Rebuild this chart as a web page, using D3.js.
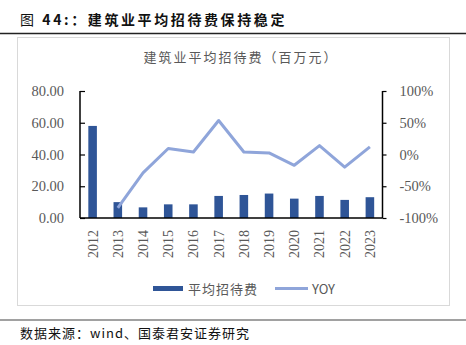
<!DOCTYPE html>
<html><head><meta charset="utf-8">
<script src="https://cdn.jsdelivr.net/npm/d3@7/dist/d3.min.js"></script>
<style>body{margin:0;background:#fff}svg{display:block}</style>
</head><body>
<script>
const years = ["2012","2013","2014","2015","2016","2017","2018","2019","2020","2021","2022","2023"];
const expense = [58.0, 10.0, 6.7, 8.6, 8.6, 13.9, 14.5, 15.4, 12.2, 13.9, 11.4, 13.1];
const yoy = [null, -84, -29, 9.5, 4, 53.6, 4, 2.5, -17, 14, -20, 12];
const leftTicks = [0, 20, 40, 60, 80];
const rightTicks = [-100, -50, 0, 50, 100];

const W = 466, H = 345;
const svg = d3.select("body").append("svg").attr("width", W).attr("height", H);
const cjk = "'Noto Sans CJK SC', sans-serif";
const serif = "'Liberation Serif', 'Times New Roman', serif";

// header
const ht = svg.append("text").attr("x", 20).attr("y", 25).attr("font-family", cjk)
  .attr("font-size", 14).attr("letter-spacing", 2.6).attr("fill", "#111");
ht.append("tspan").text("图 ");
ht.append("tspan").attr("font-weight", "bold").text("44:：建筑业平均招待费保持稳定");
svg.append("line").attr("x1", 0).attr("x2", W).attr("y1", 33.5).attr("y2", 33.5)
  .attr("stroke", "#222").attr("stroke-width", 1.5);
// frame
svg.append("rect").attr("x", 17.5).attr("y", 37.5).attr("width", 432).attr("height", 268)
  .attr("fill", "none").attr("stroke", "#d9d9d9");
// bottom rule + footer
svg.append("line").attr("x1", 0).attr("x2", W).attr("y1", 320).attr("y2", 320)
  .attr("stroke", "#444").attr("stroke-width", 1.2);
svg.append("text").attr("x", 20).attr("y", 338).attr("font-family", cjk)
  .attr("font-size", 13).attr("letter-spacing", 1).attr("fill", "#111")
  .text("数据来源：wind、国泰君安证券研究");

// chart title
svg.append("text").attr("x", 241).attr("y", 62).attr("text-anchor", "middle")
  .attr("font-family", cjk).attr("font-size", 13).attr("letter-spacing", 2).attr("fill", "#595959")
  .text("建筑业平均招待费（百万元）");

const L = 80, R = 382.5, T = 91, B = 218;
const x = d3.scaleBand().domain(years).range([L, R]).paddingInner(0.66).paddingOuter(0.33);
const yL = d3.scaleLinear().domain([0, 80]).range([B, T]);
const yR = d3.scaleLinear().domain([-100, 100]).range([B, T]);

// bars
svg.append("g").selectAll("rect").data(years).join("rect")
  .attr("x", d => x(d)).attr("width", x.bandwidth())
  .attr("y", (d, i) => yL(expense[i])).attr("height", (d, i) => B - yL(expense[i]))
  .attr("fill", "#2F5597");

// line
const pts = years.map((d, i) => [d, yoy[i]]).filter(p => p[1] !== null);
svg.append("path").datum(pts)
  .attr("d", d3.line().x(p => x(p[0]) + x.bandwidth() / 2).y(p => yR(p[1])))
  .attr("fill", "none").attr("stroke", "#8FA5DA").attr("stroke-width", 3)
  .attr("stroke-linejoin", "round");

// axes
const gL = svg.append("g").attr("transform", `translate(${L},0)`)
  .call(d3.axisRight(yL).tickValues(leftTicks).tickSize(5).tickFormat(d3.format(".2f")));
gL.selectAll("text").remove();
svg.append("g").selectAll("text").data(leftTicks).join("text")
  .attr("x", 64).attr("y", d => yL(d)).attr("dy", "0.35em").attr("text-anchor", "end")
  .attr("font-family", serif).attr("font-size", 14.5).attr("fill", "#595959")
  .text(d3.format(".2f"));

const gR = svg.append("g").attr("transform", `translate(${R},0)`)
  .call(d3.axisRight(yR).tickValues(rightTicks).tickSize(4).tickPadding(13).tickFormat(d => d + "%"));
gR.selectAll("text").attr("font-family", serif).attr("font-size", 14.5).attr("fill", "#595959");

[gL, gR].forEach(g => {
  g.selectAll(".tick line").attr("stroke", "#000").attr("stroke-width", 1.2);
  g.select(".domain").remove();
});
svg.append("line").attr("x1", L).attr("x2", L).attr("y1", T).attr("y2", B).attr("stroke", "#000").attr("stroke-width", 1.5);
svg.append("line").attr("x1", R).attr("x2", R).attr("y1", T).attr("y2", B).attr("stroke", "#000").attr("stroke-width", 1.5);

const gX = svg.append("g").attr("transform", `translate(0,${B})`)
  .call(d3.axisBottom(x).tickSize(0).tickPadding(0));
gX.select(".domain").attr("stroke", "#000").attr("stroke-width", 1.5).attr("d", `M${L},0H${R}`);
gX.selectAll("text").attr("font-family", serif).attr("font-size", 14).attr("fill", "#595959")
  .attr("text-anchor", "end").attr("transform", "rotate(-90)")
  .attr("x", -12).attr("y", 0).attr("dy", "0.35em");

// legend
const lg = svg.append("g");
lg.append("rect").attr("x", 153).attr("y", 286).attr("width", 30).attr("height", 5).attr("fill", "#2F5597");
lg.append("text").attr("x", 188).attr("y", 289).attr("dy", "0.35em").attr("font-family", cjk)
  .attr("font-size", 13).attr("letter-spacing", 1).attr("fill", "#595959").text("平均招待费");
lg.append("line").attr("x1", 275).attr("x2", 308).attr("y1", 288.5).attr("y2", 288.5)
  .attr("stroke", "#8FA5DA").attr("stroke-width", 3);
lg.append("text").attr("x", 312).attr("y", 289).attr("dy", "0.35em").attr("font-family", cjk)
  .attr("font-size", 13).attr("fill", "#595959").text("YOY");
</script>
</body></html>
